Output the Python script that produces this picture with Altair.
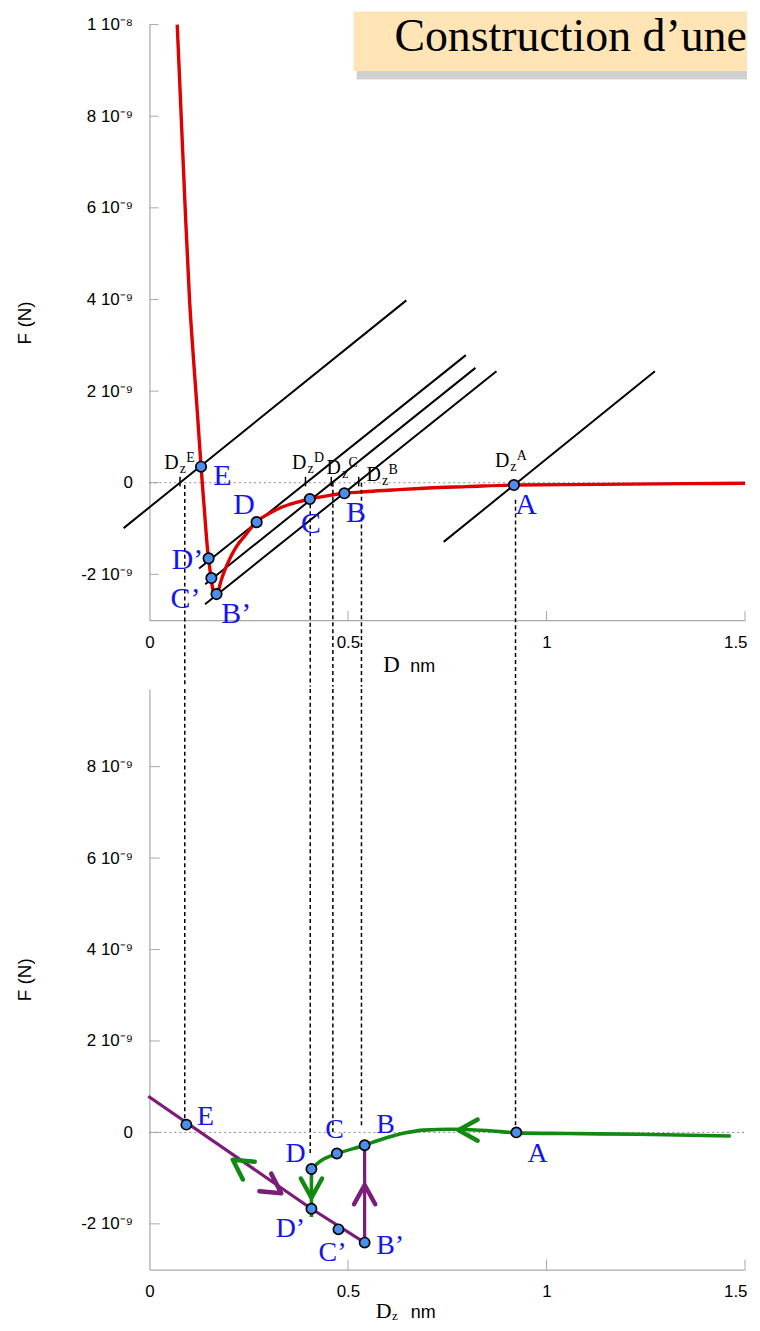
import altair as alt
import pandas as pd

SANS = "Liberation Sans"
SERIF = "Liberation Serif"

# forces are stored in units of 1e-9 N, distances in nm
X_DOMAIN = [0, 1.5]
TOP_F_DOMAIN = [-3, 10]
BOT_F_DOMAIN = [-3, 9.7]
GAP_F = -4.455          # lower end of the construction lines in the top panel

x_ticks = [0, 0.5, 1, 1.5]
x_tick_labels = ["0", "0.5", "1", "1.5"]
top_y_ticks = [-2, 0, 2, 4, 6, 8, 10]
top_y_tick_labels = ["-2 10⁻⁹", "0", "2 10⁻⁹", "4 10⁻⁹", "6 10⁻⁹", "8 10⁻⁹", "1 10⁻⁸"]
bot_y_ticks = [-2, 0, 2, 4, 6, 8]
bot_y_tick_labels = ["-2 10⁻⁹", "0", "2 10⁻⁹", "4 10⁻⁹", "6 10⁻⁹", "8 10⁻⁹"]

# ---------------- top panel : F(D)
curve_d = [0.070, 0.080, 0.090, 0.101, 0.111, 0.121, 0.130, 0.138, 0.146, 0.149,
           0.155, 0.161, 0.166, 0.172, 0.180, 0.196, 0.217, 0.243, 0.268, 0.300, 0.334,
           0.370, 0.404, 0.450, 0.491, 0.550, 0.627, 0.702, 0.800, 0.918, 1.050, 1.211,
           1.350, 1.500]
curve_f = [10.0, 8.0, 6.0, 4.0, 2.7, 1.5, 0.35, -0.55, -1.42, -1.65,
           -2.07, -2.38, -2.46, -2.40, -2.15, -1.78, -1.42, -1.13, -0.86, -0.68, -0.53,
           -0.43, -0.355, -0.28, -0.23, -0.19, -0.15, -0.115, -0.085, -0.05, -0.04, -0.03,
           -0.02, -0.01]

spring_x1 = [-0.065, 0.125, 0.1405, 0.140, 0.741]
spring_f1 = [-0.99, -1.870, -2.215, -2.652, -1.291]
spring_x2 = [0.647, 0.797, 0.821, 0.874, 1.273]
spring_f2 = [3.98, 2.785, 2.507, 2.435, 2.433]

top_pt_names = ["E", "D’", "C’", "B’", "D", "C", "B", "A"]
top_pt_x = [0.130, 0.149, 0.156, 0.169, 0.270, 0.404, 0.491, 0.918]
top_pt_f = [0.35, -1.65, -2.08, -2.43, -0.86, -0.355, -0.23, -0.05]
top_lab_x = [0.161, 0.056, 0.053, 0.181, 0.211, 0.382, 0.495, 0.921]
top_lab_f = [-0.04, -1.88, -2.73, -3.06, -0.69, -1.10, -0.86, -0.69]

dz_names = ["E", "D", "C", "B", "A"]
dz_lab_x = [0.0376, 0.359, 0.446, 0.547, 0.870]
dz_lab_f = [0.29, 0.29, 0.20, 0.03, 0.35]
dz_tick_x = [0.077, 0.393, 0.458, 0.527]
dz_line_x = [0.089, 0.405, 0.462, 0.534, 0.922]
dz_top_start_f = [-0.05, -0.47, 0.0, 0.0, -0.37]
dz_bot_end_f = [0.17, -0.45, -0.02, 0.09, 0.0]

title_text = "Construction d’une"

# ---------------- bottom panel : F(Dz)
green_x = [0.408, 0.432, 0.475, 0.542, 0.578, 0.645, 0.690, 0.760, 0.850, 0.929, 1.050, 1.230, 1.464]
green_f = [-0.80, -0.62, -0.46, -0.28, -0.17, -0.01, 0.05, 0.07, 0.04, -0.01, -0.025, -0.04, -0.08]
purple_x = [-0.003, 0.408, 0.542, 0.542]
purple_f = [0.79, -1.67, -2.41, -0.28]
drop_x = [0.408, 0.408]
drop_f = [-0.80, -1.85]

arrow_series = ["g", "p", "g", "p", "g"]
arrow_x = [0.778, 0.542, 0.408, 0.332, 0.210]
arrow_f = [0.05, -1.15, -1.43, -1.33, -0.60]
arrow_angle = [180, 270, 90, 34, 214]

bot_pt_names = ["E", "D", "C", "B", "D’", "C’", "B’", "A"]
bot_pt_x = [0.093, 0.408, 0.472, 0.542, 0.408, 0.476, 0.542, 0.924]
bot_pt_f = [0.17, -0.80, -0.46, -0.28, -1.67, -2.12, -2.41, 0.0]
bot_lab_x = [0.120, 0.343, 0.443, 0.571, 0.318, 0.426, 0.571, 0.952]
bot_lab_f = [0.16, -0.65, -0.12, -0.02, -2.28, -2.82, -2.67, -0.65]

# ---------------- styles
RED = "#E00000"
GREEN = "#128A12"
PURPLE = "#7A1C78"
BLUE_TXT = "#1414F0"
PT_FILL = "#4A8FEF"
AXIS_GREY = "#A8A8A8"
CHEVRON = "M-1,-0.55L0,0L-1,0.55"

W = 598
H_TOP = 598
H_BOT = 583


def label_expr(values, labels):
    expr = "''"
    for v, l in reversed(list(zip(values, labels))):
        expr = f"datum.value == {v} ? '{l}' : ({expr})"
    return expr


def xenc(field="x"):
    last = x_ticks[-1]
    return alt.X(f"{field}:Q",
                 scale=alt.Scale(domain=X_DOMAIN, nice=False, zero=False),
                 axis=alt.Axis(values=x_ticks, labelExpr=label_expr(x_ticks, x_tick_labels),
                               title=None, labelPadding=14, ticks=False, tickSize=0,
                               grid=False, domainColor=AXIS_GREY,
                               labelAlign={"condition": {"test": f"datum.value == {last}", "value": "right"},
                                           "value": "center"},
                               labelOffset={"condition": {"test": f"datum.value == {last}", "value": 2},
                                            "value": 0}))


def yenc(domain, ticks, labels, h, field="f"):
    return alt.Y(f"{field}:Q",
                 scale=alt.Scale(domain=domain, nice=False, zero=False),
                 axis=alt.Axis(values=ticks, labelExpr=label_expr(ticks, labels),
                               title="F (N)", titleX=-125, titleY=h / 2, titleAngle=270,
                               titleAlign="center", titleBaseline="middle",
                               labelPadding=17, ticks=False, tickSize=0, grid=False,
                               domainColor=AXIS_GREY))


# ======================= TOP PANEL =======================
Xt = xenc()
Yt = yenc(TOP_F_DOMAIN, top_y_ticks, top_y_tick_labels, H_TOP)

top_layers = []

# title box (shadow + box + text)
shadow_df = pd.DataFrame({"x": [0.522], "x2": [1.505], "f": [8.80], "f2": [8.99]})
top_layers.append(alt.Chart(shadow_df).mark_rect(color="#777", opacity=0.35, clip=False)
                  .encode(x=Xt, x2="x2:Q", y=Yt, y2="f2:Q"))
box_df = pd.DataFrame({"x": [0.514], "x2": [1.505], "f": [8.985], "f2": [10.285]})
top_layers.append(alt.Chart(box_df).mark_rect(color="#FFE5B6", clip=False)
                  .encode(x=Xt, x2="x2:Q", y=Yt, y2="f2:Q"))
title_df = pd.DataFrame({"x": [0.617], "f": [9.42], "t": [title_text]})
top_layers.append(alt.Chart(title_df).mark_text(font=SERIF, fontSize=46, color="black",
                                                align="left", baseline="alphabetic", clip=False)
                  .encode(x=Xt, y=Yt, text="t:N"))

# manual inward ticks
ytick_df = pd.DataFrame({"x": [0.0] * len(top_y_ticks), "x2": [0.023] * len(top_y_ticks),
                         "f": top_y_ticks, "f2": top_y_ticks})
top_layers.append(alt.Chart(ytick_df).mark_rule(color=AXIS_GREY, strokeWidth=1)
                  .encode(x=Xt, x2="x2:Q", y=Yt, y2="f2:Q"))
xt = x_ticks[1:]
xtick_df = pd.DataFrame({"x": xt, "x2": xt, "f": [-3] * len(xt), "f2": [-2.8] * len(xt)})
top_layers.append(alt.Chart(xtick_df).mark_rule(color=AXIS_GREY, strokeWidth=1)
                  .encode(x=Xt, x2="x2:Q", y=Yt, y2="f2:Q"))

# zero dotted line
zero_df = pd.DataFrame({"x": [0.0], "x2": [1.5], "f": [0.0], "f2": [0.0]})
top_layers.append(alt.Chart(zero_df).mark_rule(color="#8a8a8a", strokeWidth=1, strokeDash=[2, 3])
                  .encode(x=Xt, x2="x2:Q", y=Yt, y2="f2:Q"))

# spring lines
spring_df = pd.DataFrame({"x": spring_x1, "x2": spring_x2, "f": spring_f1, "f2": spring_f2})
top_layers.append(alt.Chart(spring_df).mark_rule(color="black", strokeWidth=2, clip=False)
                  .encode(x=Xt, x2="x2:Q", y=Yt, y2="f2:Q"))

# red force curve
curve_df = pd.DataFrame({"x": curve_d, "f": curve_f})
top_layers.append(alt.Chart(curve_df).mark_line(color=RED, strokeWidth=3.4, interpolate="monotone", clip=False)
                  .encode(x=Xt, y=Yt))

# Dz ticks and dashed verticals
dzt_df = pd.DataFrame({"x": dz_tick_x, "x2": dz_tick_x, "f": [0.13] * 4, "f2": [-0.08] * 4})
top_layers.append(alt.Chart(dzt_df).mark_rule(color="black", strokeWidth=1.5)
                  .encode(x=Xt, x2="x2:Q", y=Yt, y2="f2:Q"))
dash_top_df = pd.DataFrame({"x": dz_line_x, "x2": dz_line_x, "f": dz_top_start_f,
                            "f2": [GAP_F] * len(dz_line_x)})
top_layers.append(alt.Chart(dash_top_df).mark_rule(color="black", strokeWidth=1.5, strokeDash=[4, 3], clip=False)
                  .encode(x=Xt, x2="x2:Q", y=Yt, y2="f2:Q"))

# points
tp_df = pd.DataFrame({"x": top_pt_x, "f": top_pt_f, "n": top_pt_names})
top_layers.append(alt.Chart(tp_df).mark_point(shape="circle", filled=True, fill=PT_FILL, stroke="black",
                                              strokeWidth=1.7, size=110, opacity=1)
                  .encode(x=Xt, y=Yt))
# blue letters
tl_df = pd.DataFrame({"x": top_lab_x, "f": top_lab_f, "n": top_pt_names})
top_layers.append(alt.Chart(tl_df).mark_text(font=SERIF, fontSize=30, color=BLUE_TXT, align="left",
                                             baseline="alphabetic", clip=False)
                  .encode(x=Xt, y=Yt, text="n:N"))

# D_z^X labels
dz_df = pd.DataFrame({"x": dz_lab_x, "f": dz_lab_f, "n": dz_names, "D": ["D"] * 5, "z": ["z"] * 5})
top_layers.append(alt.Chart(dz_df).mark_text(font=SERIF, fontSize=20, color="black", align="left",
                                             baseline="alphabetic")
                  .encode(x=Xt, y=Yt, text="D:N"))
top_layers.append(alt.Chart(dz_df).mark_text(font=SERIF, fontSize=14, color="black", align="left",
                                             baseline="alphabetic", dx=15.5, dy=4)
                  .encode(x=Xt, y=Yt, text="z:N"))
top_layers.append(alt.Chart(dz_df).mark_text(font=SERIF, fontSize=14, color="black", align="left",
                                             baseline="alphabetic", dx=22, dy=-7)
                  .encode(x=Xt, y=Yt, text="n:N"))

# x-axis title "D  nm"
xtD_df = pd.DataFrame({"x": [0.589], "f": [-4.12], "t": ["D"]})
top_layers.append(alt.Chart(xtD_df).mark_text(font=SERIF, fontSize=23, color="black", align="left",
                                              baseline="alphabetic", clip=False)
                  .encode(x=Xt, y=Yt, text="t:N"))
xtN_df = pd.DataFrame({"x": [0.657], "f": [-4.12], "t": ["nm"]})
top_layers.append(alt.Chart(xtN_df).mark_text(font=SANS, fontSize=18, color="black", align="left",
                                              baseline="alphabetic", clip=False)
                  .encode(x=Xt, y=Yt, text="t:N"))

top = alt.layer(*top_layers).properties(width=W, height=H_TOP)

# ======================= BOTTOM PANEL =======================
Xb = xenc()
Yb = yenc(BOT_F_DOMAIN, bot_y_ticks, bot_y_tick_labels, H_BOT)
bl = []

ytick_b = pd.DataFrame({"x": [0.0] * len(bot_y_ticks), "x2": [0.026] * len(bot_y_ticks),
                        "f": bot_y_ticks, "f2": bot_y_ticks})
bl.append(alt.Chart(ytick_b).mark_rule(color=AXIS_GREY, strokeWidth=1)
          .encode(x=Xb, x2="x2:Q", y=Yb, y2="f2:Q"))
xtick_b = pd.DataFrame({"x": xt, "x2": xt, "f": [-3] * len(xt), "f2": [-2.78] * len(xt)})
bl.append(alt.Chart(xtick_b).mark_rule(color=AXIS_GREY, strokeWidth=1)
          .encode(x=Xb, x2="x2:Q", y=Yb, y2="f2:Q"))
bl.append(alt.Chart(zero_df).mark_rule(color="#8a8a8a", strokeWidth=1, strokeDash=[2, 3])
          .encode(x=Xb, x2="x2:Q", y=Yb, y2="f2:Q"))

dash_bot_df = pd.DataFrame({"x": dz_line_x, "x2": dz_line_x, "f": [BOT_F_DOMAIN[1]] * len(dz_line_x),
                            "f2": dz_bot_end_f})
bl.append(alt.Chart(dash_bot_df).mark_rule(color="black", strokeWidth=1.5, strokeDash=[4, 3])
          .encode(x=Xb, x2="x2:Q", y=Yb, y2="f2:Q"))

green_df = pd.DataFrame({"x": green_x, "f": green_f})
bl.append(alt.Chart(green_df).mark_line(color=GREEN, strokeWidth=3.6, interpolate="monotone")
          .encode(x=Xb, y=Yb))
purple_df = pd.DataFrame({"x": purple_x, "f": purple_f, "o": list(range(len(purple_x)))})
bl.append(alt.Chart(purple_df).mark_line(color=PURPLE, strokeWidth=3.2, clip=False)
          .encode(x=Xb, y=Yb, order="o:Q"))
drop_df = pd.DataFrame({"x": drop_x, "f": drop_f, "o": [0, 1]})
bl.append(alt.Chart(drop_df).mark_line(color=GREEN, strokeWidth=3.6)
          .encode(x=Xb, y=Yb, order="o:Q"))

arr_df = pd.DataFrame({"x": arrow_x, "f": arrow_f, "s": arrow_series, "a": arrow_angle})
bl.append(alt.Chart(arr_df).mark_point(shape=CHEVRON, filled=False, strokeWidth=4.5, size=1500,
                                       opacity=1, strokeCap="round", strokeJoin="round")
          .encode(x=Xb, y=Yb, angle=alt.Angle("a:Q", scale=None),
                  color=alt.Color("s:N", scale=alt.Scale(domain=["g", "p"], range=[GREEN, PURPLE]),
                                  legend=None)))

bp_df = pd.DataFrame({"x": bot_pt_x, "f": bot_pt_f, "n": bot_pt_names})
bl.append(alt.Chart(bp_df).mark_point(shape="circle", filled=True, fill=PT_FILL, stroke="black",
                                      strokeWidth=1.7, size=105, opacity=1)
          .encode(x=Xb, y=Yb))
blab_df = pd.DataFrame({"x": bot_lab_x, "f": bot_lab_f, "n": bot_pt_names})
bl.append(alt.Chart(blab_df).mark_text(font=SERIF, fontSize=28, color=BLUE_TXT, align="left",
                                       baseline="alphabetic", clip=False)
          .encode(x=Xb, y=Yb, text="n:N"))

# x-axis title "Dz nm"
bt1 = pd.DataFrame({"x": [0.570], "f": [-4.05], "t": ["D"]})
bl.append(alt.Chart(bt1).mark_text(font=SERIF, fontSize=22, color="black", align="left",
                                   baseline="alphabetic", clip=False)
          .encode(x=Xb, y=Yb, text="t:N"))
bt2 = pd.DataFrame({"x": [0.611], "f": [-4.10], "t": ["z"]})
bl.append(alt.Chart(bt2).mark_text(font=SERIF, fontSize=13, color="black", align="left",
                                   baseline="alphabetic", clip=False)
          .encode(x=Xb, y=Yb, text="t:N"))
bt3 = pd.DataFrame({"x": [0.658], "f": [-4.05], "t": ["nm"]})
bl.append(alt.Chart(bt3).mark_text(font=SANS, fontSize=18, color="black", align="left",
                                   baseline="alphabetic", clip=False)
          .encode(x=Xb, y=Yb, text="t:N"))

bottom = alt.layer(*bl).properties(width=W, height=H_BOT)

chart = (alt.vconcat(top, bottom, spacing=0)
         .properties(padding={"left": 8, "top": 0, "right": 0, "bottom": 0}, background="white")
         .configure_view(strokeWidth=0)
         .configure_axis(labelFont=SANS, labelFontSize=17, labelColor="black",
                         titleFont=SANS, titleFontSize=19, titleFontWeight="normal",
                         titleColor="black", domainWidth=1.2))

chart.save("out.html", embed_options={"renderer": "svg", "actions": False})
